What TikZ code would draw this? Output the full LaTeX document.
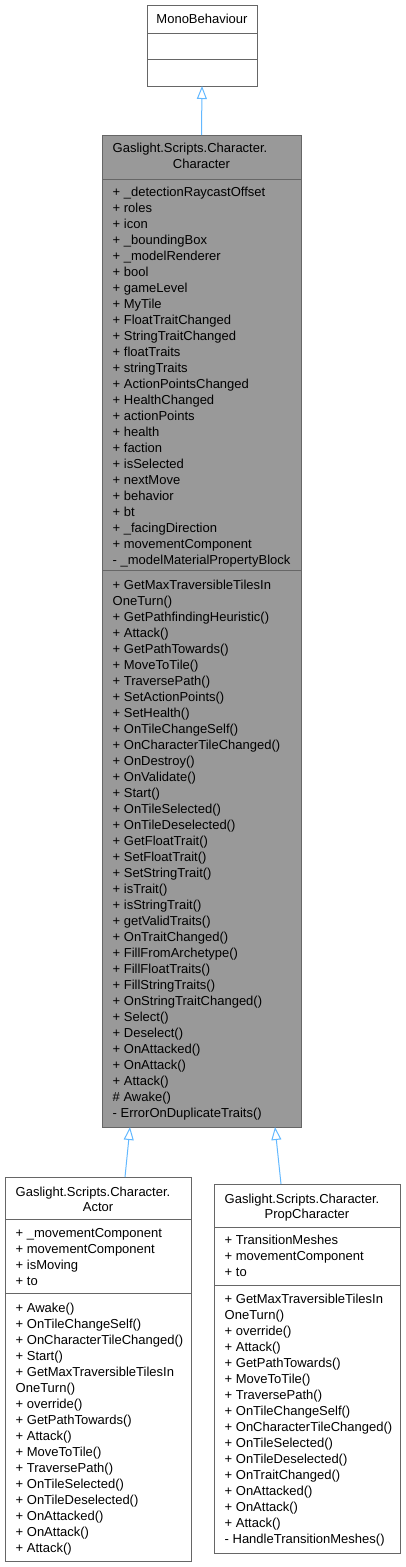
\documentclass[tikz,border=0pt]{standalone}
\usepackage{fontspec}
\setmainfont{Liberation Sans}
\usetikzlibrary{arrows.meta,calc}
\definecolor{bordergray}{HTML}{666666}
\definecolor{hilite}{HTML}{999999}
\definecolor{edgeblue}{HTML}{63B8FF}
\newcommand\memlist[4]{%
  \foreach \t [count=\i from 0] in {#4} {\node[mem] (#1\i) at (#2,{#3+16*\i+4.5}) {\t};}}
\begin{document}
\begin{tikzpicture}[x=1pt,y=-1pt,
  classbox/.style={draw=bordergray, line width=1pt, fill=white, inner sep=0pt, outer sep=0pt},
  hibox/.style={classbox, fill=hilite},
  sepline/.style={draw=bordergray, line width=1pt},
  mem/.style={anchor=base west, inner sep=0pt, font=\fontsize{13}{15}\selectfont},
  ttl/.style={anchor=base, inner sep=0pt, font=\fontsize{13}{15}\selectfont},
  inherit/.style={draw=edgeblue, line width=1pt, -{Triangle[open, length=13pt, width=10pt, line width=1pt]}}
]
\useasboundingbox (0,0) rectangle (405,1567);
% MonoBehaviour
\node[classbox, minimum width=110pt, minimum height=81pt] (mono) at (202,45.5) {};
\draw[sepline] (mono.west |- 0,33) -- (mono.east |- 0,33);
\draw[sepline] (mono.west |- 0,59) -- (mono.east |- 0,59);
\node[ttl] (monot) at (202,23.5) {MonoBehaviour};
% Character
\node[hibox, minimum width=199pt, minimum height=992pt] (char) at (201.5,631) {};
\node[mem] (chart1) at (112.5,152) {Gaslight.Scripts.Character.};
\node[ttl] (chart2) at (201.5,168) {Character};
\draw[sepline] (char.west |- 0,179) -- (char.east |- 0,179);
\memlist{ca}{112.5}{192}{+ \_detectionRaycastOffset, + roles, + icon, + \_boundingBox, + \_modelRenderer, + bool, + gameLevel, + MyTile, + FloatTraitChanged, + StringTraitChanged, + floatTraits, + stringTraits, + ActionPointsChanged, + HealthChanged, + actionPoints, + health, + faction, + isSelected, + nextMove, + behavior, + bt, + \_facingDirection, + movementComponent, - \_modelMaterialPropertyBlock}
\draw[sepline] (char.west |- 0,570) -- (char.east |- 0,570);
\memlist{cm}{112.5}{585}{+ GetMaxTraversibleTilesIn, OneTurn(), + GetPathfindingHeuristic(), + Attack(), + GetPathTowards(), + MoveToTile(), + TraversePath(), + SetActionPoints(), + SetHealth(), + OnTileChangeSelf(), + OnCharacterTileChanged(), + OnDestroy(), + OnValidate(), + Start(), + OnTileSelected(), + OnTileDeselected(), + GetFloatTrait(), + SetFloatTrait(), + SetStringTrait(), + isTrait(), + isStringTrait(), + getValidTraits(), + OnTraitChanged(), + FillFromArchetype(), + FillFloatTraits(), + FillStringTraits(), + OnStringTraitChanged(), + Select(), + Deselect(), + OnAttacked(), + OnAttack(), + Attack(), \# Awake(), - ErrorOnDuplicateTraits()}
% Actor
\node[classbox, minimum width=186pt, minimum height=384pt] (actor) at (98,1369) {};
\node[mem] (actt1) at (15.5,1196.5) {Gaslight.Scripts.Character.};
\node[ttl] (actt2) at (98,1211.5) {Actor};
\draw[sepline] (actor.west |- 0,1219) -- (actor.east |- 0,1219);
\memlist{aa}{15.5}{1233}{+ \_movementComponent, + movementComponent, + isMoving, + to}
\draw[sepline] (actor.west |- 0,1293) -- (actor.east |- 0,1293);
\memlist{am}{15.5}{1308}{+ Awake(), + OnTileChangeSelf(), + OnCharacterTileChanged(), + Start(), + GetMaxTraversibleTilesIn, OneTurn(), + override(), + GetPathTowards(), + Attack(), + MoveToTile(), + TraversePath(), + OnTileSelected(), + OnTileDeselected(), + OnAttacked(), + OnAttack(), + Attack()}
% PropCharacter
\node[classbox, minimum width=186pt, minimum height=369pt] (prop) at (307,1368.5) {};
\node[mem] (propt1) at (224.5,1203.5) {Gaslight.Scripts.Character.};
\node[ttl] (propt2) at (307,1218.5) {PropCharacter};
\draw[sepline] (prop.west |- 0,1227) -- (prop.east |- 0,1227);
\memlist{pa}{224.5}{1240}{+ TransitionMeshes, + movementComponent, + to}
\draw[sepline] (prop.west |- 0,1285) -- (prop.east |- 0,1285);
\memlist{pm}{224.5}{1299}{+ GetMaxTraversibleTilesIn, OneTurn(), + override(), + Attack(), + GetPathTowards(), + MoveToTile(), + TraversePath(), + OnTileChangeSelf(), + OnCharacterTileChanged(), + OnTileSelected(), + OnTileDeselected(), + OnTraitChanged(), + OnAttacked(), + OnAttack(), + Attack(), - HandleTransitionMeshes()}
% inheritance edges
\draw[inherit] (char.north) -- (mono.south);
\draw[inherit] ([xshift=27pt]actor.north) -- ([xshift=-71.5pt]char.south);
\draw[inherit] ([xshift=-26pt]prop.north) -- ([xshift=73.5pt]char.south);
\end{tikzpicture}
\end{document}
